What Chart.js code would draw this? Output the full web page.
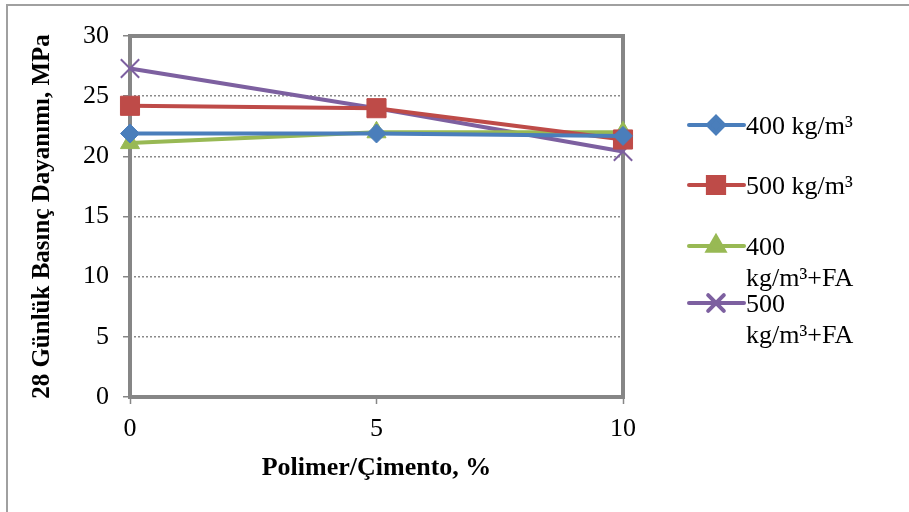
<!DOCTYPE html>
<html>
<head>
<meta charset="utf-8">
<script src="https://cdn.jsdelivr.net/npm/chart.js@4.4.0/dist/chart.umd.min.js"></script>
<style>
  html, body { margin: 0; padding: 0; background: #fff; }
  #wrap { width: 909px; height: 512px; position: relative; }
</style>
</head>
<body>
<div id="wrap"><canvas id="strengthChart"></canvas></div>
<script>
// polymer / cement ratio, %
const polymerRatio = [0, 5, 10];
const s400 = [21.9, 21.9, 21.7];
const s500 = [24.2, 24.0, 21.4];
const s400FA = [21.1, 22.0, 22.0];
const s500FA = [27.3, 24.0, 20.4];
const seriesLabels = [['400 kg/m³'], ['500 kg/m³'], ['400', 'kg/m³+FA'], ['500', 'kg/m³+FA']];
const yTicks = [0, 5, 10, 15, 20, 25, 30];
const xTicks = [0, 5, 10];

const serif = "'Liberation Serif', 'Times New Roman', serif";

function pts(vals) {
    return polymerRatio.map((x, i) => ({ x: x, y: vals[i] }));
}

// frame around whole figure + plot area, and the wrapped legend
const framePlugin = {
    id: 'frames',
    beforeDraw(chart) {
        const c = chart.ctx;
        c.save();
        c.strokeStyle = '#a0a0a0';
        c.lineWidth = 2;
        c.beginPath();
        c.moveTo(7, 520);
        c.lineTo(7, 5);
        c.lineTo(920, 5);
        c.stroke();
        c.restore();
    },
    beforeDatasetsDraw(chart) {
        const a = chart.chartArea;
        const c = chart.ctx;
        c.save();
        c.strokeStyle = '#868686';
        c.lineWidth = 4;
        c.strokeRect(a.left, a.top, a.right - a.left, a.bottom - a.top);
        c.restore();
    },
    afterDraw(chart) {
        const c = chart.ctx;
        const rows = [125, 185, 246, 303];
        c.save();
        chart.data.datasets.forEach((ds, i) => {
            const y = rows[i];
            c.strokeStyle = ds.borderColor;
            c.fillStyle = ds.borderColor;
            c.lineWidth = 4;
            c.lineCap = 'round';
            c.beginPath();
            c.moveTo(689, y);
            c.lineTo(744, y);
            c.stroke();
            Chart.helpers.drawPoint(c, {
                pointStyle: ds.pointStyle,
                radius: ds.pointRadius * 0.85,
                borderWidth: ds.pointStyle === 'crossRot' ? 2 : 1,
            }, 716, y);
            c.fillStyle = '#000';
            c.font = '26px ' + serif;
            c.textBaseline = 'middle';
            c.textAlign = 'left';
            seriesLabels[i].forEach((t, k) => c.fillText(t, 746, y + 2 + k * 31));
        });
        c.restore();
    }
};

function mkSet(idx, vals, color, style, radius) {
    return {
        label: seriesLabels[idx].join(' '),
        data: pts(vals),
        borderColor: color,
        backgroundColor: color,
        borderWidth: 4,
        pointStyle: style,
        pointRadius: radius,
        pointHoverRadius: radius,
        pointBorderColor: color,
        pointBackgroundColor: color,
        pointBorderWidth: style === 'crossRot' ? 2 : 1,
        tension: 0,
        clip: false,
    };
}

const ctx = document.getElementById('strengthChart').getContext('2d');
const chart = new Chart(ctx, {
    type: 'line',
    data: {
        datasets: [
            mkSet(0, s400, '#4A7EBB', 'rectRot', 9.5),
            mkSet(1, s500, '#BE4B48', 'rect', 13.5),
            mkSet(2, s400FA, '#98B954', 'triangle', 11),
            mkSet(3, s500FA, '#7D60A0', 'crossRot', 13),
        ]
    },
    options: {
        responsive: true,
        maintainAspectRatio: false,
        animation: false,
        layout: { padding: { top: 36, right: 286, bottom: 24, left: 24 } },
        plugins: {
            legend: { display: false },
            tooltip: { enabled: false },
        },
        scales: {
            x: {
                type: 'linear',
                min: 0,
                max: 10,
                afterBuildTicks: (s) => { s.ticks = xTicks.map(v => ({ value: v })); },
                ticks: { color: '#000', font: { family: serif, size: 26 }, padding: 10 },
                grid: { drawOnChartArea: false, tickLength: 7, color: '#868686', tickWidth: 1.5 },
                border: { display: false },
                title: {
                    display: true,
                    text: 'Polimer/Çimento, %',
                    color: '#000',
                    font: { family: serif, size: 26, weight: 'bold' },
                    padding: { top: 8 }
                },
                afterFit: (s) => { s.height = 512 - 397 - 24; }
            },
            y: {
                min: 0,
                max: 30,
                afterBuildTicks: (s) => { s.ticks = yTicks.map(v => ({ value: v })); },
                ticks: { color: '#000', font: { family: serif, size: 26 }, padding: 14 },
                grid: { color: '#8a8a8a', tickLength: 7, lineWidth: 1.5, tickColor: '#868686' },
                border: { display: false, dash: [2, 2] },
                title: {
                    display: true,
                    text: '28 Günlük Basınç Dayanımı, MPa',
                    color: '#000',
                    font: { family: serif, size: 25, weight: 'bold' },
                    padding: { bottom: 4 }
                },
                afterFit: (s) => { s.width = 130 - 24; }
            }
        }
    },
    plugins: [framePlugin]
});
</script>
</body>
</html>
